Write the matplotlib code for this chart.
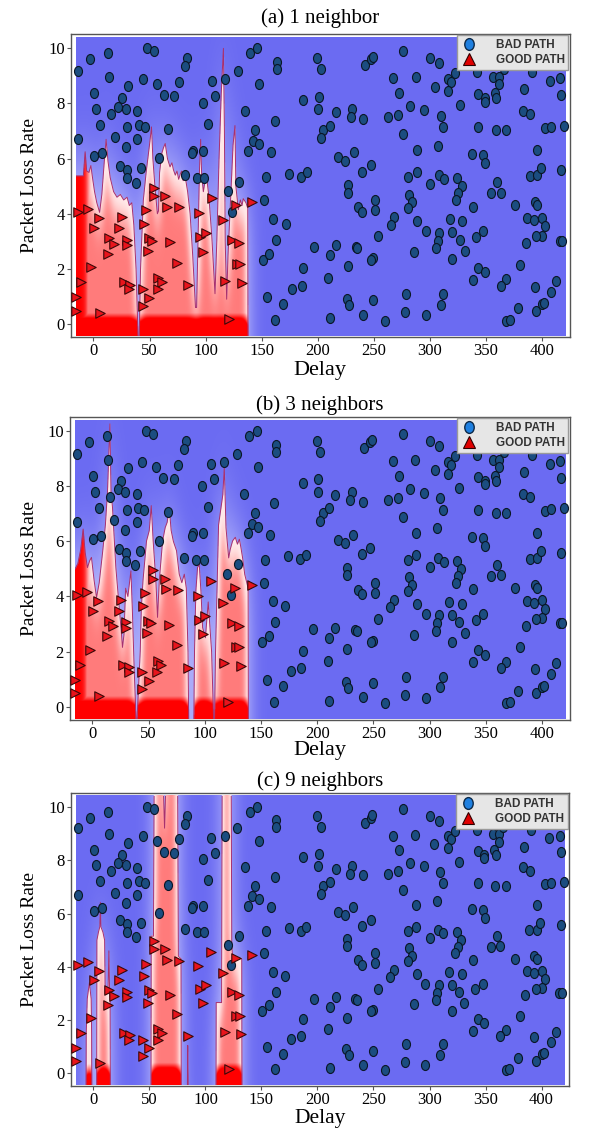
import numpy as np
import matplotlib
matplotlib.use("Agg")
import matplotlib.pyplot as plt
from matplotlib.path import Path
from matplotlib.lines import Line2D
from matplotlib.patches import Rectangle

# ---- data -----------------------------------------------------------------
BAD_PATH = [
    (-13.4, 9.19), (-3.0, 9.60), (12.8, 9.82), (47.5, 10.0), (54.3, 9.92), (83.1, 9.64),
    (81.7, 9.36), (14.0, 8.97), (44.5, 8.90), (56.4, 8.71), (76.3, 8.79), (31.2, 8.65),
    (0.6, 8.39), (25.5, 8.19), (63.0, 8.31), (72.2, 8.27), (105.4, 8.83), (108.4, 8.27),
    (117.3, 8.89), (128.6, 9.19), (139.6, 9.82), (146.0, 10.0), (2.4, 7.81), (22.3, 7.89),
    (28.8, 7.81), (15.7, 7.61), (39.2, 7.71), (97.4, 8.03), (135.1, 7.73), (5.9, 7.22),
    (30.3, 7.15), (40.7, 7.22), (46.0, 7.14), (66.8, 7.08), (102.4, 7.25), (144.3, 7.04),
    (-13.4, 6.71), (19.3, 6.78), (39.2, 6.70), (28.8, 6.41), (0.9, 6.10), (8.0, 6.21),
    (58.8, 6.01), (89.1, 6.29), (88.2, 6.20), (98.0, 6.29), (141.9, 6.64), (138.1, 6.29),
    (23.8, 5.74), (42.5, 5.65), (29.7, 5.59), (29.7, 5.29), (38.0, 5.13), (81.7, 5.41),
    (92.1, 5.31), (98.9, 5.31), (129.8, 5.17), (119.7, 4.83), (123.2, 4.06),
    (163.3, 9.49), (163.3, 9.24), (199.6, 9.66), (202.8, 9.25), (242.0, 9.40), (247.4, 9.60),
    (248.9, 9.70), (276.2, 9.92), (267.3, 8.91), (287.2, 8.95), (147.6, 8.71), (187.1, 8.13),
    (201.0, 8.25), (200.4, 7.79), (272.6, 8.39), (282.7, 7.91), (161.8, 7.38), (216.2, 7.68),
    (230.7, 7.80), (229.3, 7.50), (240.5, 7.43), (263.1, 7.50), (271.7, 7.58), (204.9, 7.04),
    (210.8, 7.20), (202.8, 6.74), (276.2, 6.90), (147.6, 6.53), (158.3, 6.23), (218.3, 6.05),
    (224.5, 5.93), (231.9, 6.23), (239.6, 5.53), (247.4, 5.77), (288.1, 6.32), (288.1, 5.50),
    (153.8, 5.34), (174.3, 5.46), (185.0, 5.35), (190.1, 5.50), (280.6, 5.34), (226.6, 5.05),
    (226.6, 4.77), (281.5, 4.69), (284.5, 4.42), (280.6, 4.20), (152.3, 4.50), (236.1, 4.24),
    (239.6, 4.08), (251.5, 4.50), (251.5, 4.14), (160.4, 3.82), (171.3, 3.64), (268.2, 3.88),
    (264.9, 3.60), (288.9, 3.74), (162.7, 3.06), (196.6, 2.81), (216.2, 2.85), (233.9, 2.79),
    (235.4, 2.75), (253.9, 3.18), (210.8, 2.49), (150.9, 2.33), (156.8, 2.55), (249.4, 2.39),
    (247.9, 2.33), (285.9, 2.60), (187.1, 2.03), (226.6, 2.09), (209.4, 1.67), (176.7, 1.28),
    (185.6, 1.39), (155.0, 0.98), (169.3, 0.74), (225.7, 0.91), (227.8, 0.68), (249.4, 0.86),
    (279.1, 1.09), (161.8, 0.16), (210.8, 0.22), (240.5, 0.33), (260.4, 0.12), (277.7, 0.42),
    (300.5, 9.66), (308.2, 9.46), (304.4, 8.59), (316.3, 8.89), (319.2, 8.79), (322.8, 9.09),
    (316.3, 8.45), (342.4, 9.15), (356.4, 8.97), (361.7, 8.97), (365.9, 9.24), (361.7, 8.70),
    (390.8, 9.15), (406.8, 8.82), (416.3, 8.91), (343.0, 8.33), (349.0, 8.19), (349.0, 8.07),
    (357.9, 8.37), (359.4, 8.21), (384.0, 8.51), (417.2, 8.31), (326.6, 7.95), (294.9, 7.77),
    (309.7, 7.56), (311.8, 7.14), (383.1, 7.73), (389.6, 7.61), (343.0, 7.14), (358.8, 7.02),
    (368.3, 7.02), (403.0, 7.10), (408.4, 7.16), (420.0, 7.20), (306.8, 6.47), (337.6, 6.17),
    (347.4, 6.14), (349.3, 5.83), (395.8, 6.32), (300.5, 5.07), (307.9, 5.39), (312.4, 5.27),
    (324.3, 5.29), (328.2, 4.99), (325.5, 4.75), (323.1, 4.50), (338.5, 4.26), (360.0, 5.14),
    (354.9, 4.75), (363.3, 4.77), (376.3, 4.30), (389.0, 5.37), (395.8, 5.39), (398.8, 5.65),
    (417.2, 5.57), (393.5, 4.42), (395.8, 4.30), (296.4, 3.36), (308.2, 3.32), (306.8, 3.02),
    (305.9, 2.75), (317.7, 3.80), (320.1, 3.33), (329.0, 3.72), (326.6, 3.06), (331.1, 2.66),
    (340.9, 3.16), (347.4, 3.36), (320.1, 2.36), (386.9, 3.84), (392.9, 3.78), (400.4, 3.86),
    (403.0, 3.56), (400.4, 3.21), (395.0, 3.18), (385.4, 2.93), (415.8, 3.02), (418.2, 3.03),
    (343.0, 2.05), (349.0, 1.88), (338.5, 1.61), (380.7, 2.15), (368.3, 1.63), (363.3, 1.39),
    (393.5, 1.36), (412.8, 1.57), (408.4, 1.18), (311.8, 1.09), (309.7, 0.70), (296.4, 0.31),
    (378.6, 0.58), (394.9, 0.48), (400.4, 0.72), (402.0, 0.76), (368.3, 0.12), (371.2, 0.16),
]

GOOD_PATH = [
    (54.3, 4.95), (54.0, 4.65), (64.1, 4.65), (65.3, 4.26), (76.3, 4.23), (105.4, 4.57),
    (127.1, 4.32), (141.6, 4.43), (-14.0, 4.06), (-4.5, 4.17), (5.0, 3.83), (25.5, 3.88),
    (46.9, 4.12), (93.8, 4.02), (115.8, 3.76), (0.9, 3.49), (23.2, 3.49), (45.1, 3.64),
    (14.3, 3.12), (18.7, 2.92), (29.7, 3.06), (29.7, 2.87), (49.6, 3.12), (52.0, 3.02),
    (68.3, 2.96), (95.0, 3.16), (100.4, 3.30), (123.8, 3.04), (130.1, 2.93), (12.8, 2.55),
    (48.7, 2.66), (98.0, 2.63), (-2.1, 2.07), (74.8, 2.23), (127.7, 2.17), (130.7, 2.17),
    (-11.0, 1.52), (27.6, 1.52), (32.7, 1.43), (32.1, 1.27), (44.5, 1.27), (57.9, 1.67),
    (60.9, 1.52), (57.3, 1.27), (49.9, 0.94), (84.6, 1.40), (117.3, 1.57), (132.1, 1.49),
    (-15.7, 0.97), (-15.4, 0.48), (5.9, 0.40), (43.9, 0.64), (120.9, 0.18),
]

# top edge of the GOOD PATH region in each panel
EDGE_1NN_X = [-15.5, -9.0, -7.4, -6.0, -4.0, -2.3, -0.8, 1.0, 3.0, 5.5, 7.5, 9.5, 11.3, 13.0,
              15.0, 18.0, 21.0, 24.0, 27.0, 30.0, 32.0, 34.2, 36.0, 38.0, 39.8, 40.8, 42.0,
              44.5, 47.0, 50.0, 51.8, 53.0, 55.0, 57.0, 58.0, 59.0, 61.0, 62.5, 64.0, 66.0,
              68.3, 70.0, 71.3, 73.0, 74.5, 76.0, 77.5, 78.7, 80.0, 82.0, 84.0, 86.2, 88.5,
              91.0, 92.0, 93.5, 94.5, 95.6, 96.5, 98.0, 100.0, 101.6, 103.0, 105.5, 108.4,
              110.0, 112.0, 114.0, 115.9, 116.8, 117.5, 118.8, 120.0, 122.5, 124.5, 126.2,
              127.0, 129.2, 131.0, 132.5, 133.6, 136.0, 137.6, 137.8]
EDGE_1NN_Y = [5.37, 5.37, 6.25, 5.55, 5.5, 5.75, 5.3, 4.8, 4.4, 4.05, 4.7, 5.8, 6.7, 5.9,
              5.3, 4.8, 4.6, 4.7, 4.5, 4.6, 4.3, 4.4, 3.6, 2.0, -0.5, -0.5, 2.0,
              4.5, 5.5, 6.5, 7.15, 6.0, 4.9, 4.0, 4.1, 5.5, 6.2, 6.4, 6.55, 6.0,
              5.7, 5.85, 5.6, 5.4, 5.55, 5.25, 5.45, 5.55, 5.2, 5.3, 4.8, 4.0, 2.5,
              0.6, 0.6, 3.5, 5.5, 6.7, 5.4, 4.8, 5.3, 5.1, 4.6, 3.2, 1.1,
              3.0, 6.0, 8.4, 10.0, 7.0, 3.0, 0.9, 2.5, 4.7, 6.5, 7.2,
              5.0, 4.15, 4.5, 4.3, 4.55, 4.4, 4.2, -0.5]

EDGE_3NN_X = [-15.5, -13.0, -10.5, -8.3, -6.5, -4.5, -2.5, -0.9, 1.5, 3.6, 6.0, 9.0, 11.5,
              13.4, 15.5, 16.5, 17.8, 20.8, 23.8, 25.5, 26.7, 28.0, 29.5, 31.5, 34.2, 35.5,
              37.0, 38.8, 39.6, 42.5, 43.5, 45.0, 48.1, 50.5, 52.3, 54.0, 56.4, 57.9, 59.5,
              62.4, 64.7, 66.5, 68.3, 70.0, 72.0, 74.8, 77.2, 79.5, 81.7, 83.5, 85.0, 85.6,
              90.2, 90.8, 92.0, 93.5, 95.0, 96.5, 98.0, 100.5, 103.0, 106.0, 107.8, 108.6,
              109.5, 112.2, 116.0, 117.3, 118.8, 121.2, 122.5, 124.7, 127.1, 129.0, 130.7,
              132.0, 133.6, 135.5, 138.5, 138.7]
EDGE_3NN_Y = [5.0, 5.2, 5.7, 6.45, 5.6, 5.05, 5.3, 5.42, 4.57, 3.96, 4.5, 5.6, 6.6,
              7.84, 10.27, 7.8, 7.24, 5.05, 3.6, 2.8, 2.15, 2.6, 4.3, 4.0, 4.93, 3.5,
              1.5, -0.5, -0.5, 2.0, 3.6, 4.6, 6.02, 6.39, 7.3, 6.02, 4.57, 3.24, 4.6,
              6.02, 6.5, 6.7, 7.24, 6.4, 6.0, 5.66, 4.81, 4.5, 4.81, 4.3, 2.0, -0.5,
              -0.5, 2.0, 4.2, 5.05, 5.17, 4.2, 2.87, 2.5, 3.8, 2.0, -0.5, -0.5,
              2.0, 6.6, 7.7, 8.7, 6.5, 5.4, 5.7, 6.02, 6.15, 5.9, 6.08,
              5.8, 5.4, 4.8, 4.3, -0.5]

EDGE_9NN_X = [-15.5, -6.6, -6.4, -5.5, -3.6, -2.0, -1.6, -1.4, 2.9, 3.1, 4.5, 5.7, 6.2,
              6.7, 8.5, 10.0, 10.5, 13.0, 13.8, 14.5, 14.9, 15.1, 51.4, 51.6, 53.6, 54.2,
              54.8, 62.5, 63.5, 64.5, 74.5, 75.2, 75.8, 78.2, 78.4, 83.8, 84.2, 84.6, 109.4,
              109.6, 114.4, 114.9, 115.4, 123.0, 123.5, 124.2, 132.4, 132.6]
EDGE_9NN_Y = [-1, -1, 1.5, 2.8, 3.4, 2.8, 1.5, -1, -1, 5.0, 5.3, 5.5, 6.42,
              5.5, 5.3, 5.0, 3.0, 3.0, 4.6, 3.0, 2.8, -1, -1, 5.15, 5.15, 10.6,
              10.6, 10.6, 9.2, 10.6, 10.6, 10.6, 4.4, 4.3, -1, -1, 1.05, -1, -1,
              2.66, 2.66, 10.6, 10.6, 10.6, 4.8, 4.4, 4.3, -1]

TITLES = ["(a) 1 neighbor", "(b) 3 neighbors", "(c) 9 neighbors"]
X_TICKS = [0, 50, 100, 150, 200, 250, 300, 350, 400]
Y_TICKS = [0, 2, 4, 6, 8, 10]

# ---- layout (pixels of the 614x1133 canvas) --------------------------------
W, H = 614, 1133
FRAMES = [(71, 569.5, 34, 337), (70, 569.5, 417, 719.5), (71, 569, 793, 1086)]
TITLE_Y = [18, 405, 781]
XLABEL_TOP = [361, 741, 1109]
XLABEL_SIZE = [16, 16, 15.5]

GRID_X = np.arange(-15.5, 421.0, 0.25)
GRID_Y = np.arange(-0.44, 10.42, 0.02)
SERIF = ["Liberation Serif", "DejaVu Serif"]


def gaussian_blur(a, sx, sy):
    def kern(s):
        r = int(3 * s)
        t = np.arange(-r, r + 1)
        k = np.exp(-0.5 * (t / s) ** 2)
        return k / k.sum()
    kx, ky = kern(sx), kern(sy)
    rx, ry = len(kx) // 2, len(ky) // 2
    p = np.pad(a, ((0, 0), (rx, rx)), mode="edge")
    a = np.array([np.convolve(row, kx, mode="valid") for row in p])
    p = np.pad(a, ((ry, ry), (0, 0)), mode="edge")
    a = np.array([np.convolve(col, ky, mode="valid") for col in p.T]).T
    return a


def region_colors(edge_x, edge_y, left_core):
    X, Y = np.meshgrid(GRID_X, GRID_Y)
    top = np.interp(GRID_X, edge_x, edge_y)
    good = (Y < top[None, :]).astype(float)

    inner = gaussian_blur(good, 3.0 / 0.25, 0.8 / 0.02)
    glow = gaussian_blur(good, 7.0 / 0.25, 1.2 / 0.02)

    depth = np.clip((inner - 0.5) * 2, 0, 1)
    s = 0.04 + 0.45 * depth ** 1.8
    bottom = np.clip((0.35 + 0.3 * depth - Y) / 0.45, 0, 1) ** 1.3
    s = np.maximum(s, bottom)
    if left_core:
        s = np.maximum(s, 1 / (1 + np.exp((X + 5) / 1.5)))
    red = np.stack([np.ones_like(s), 0.95 * (1 - s), 0.95 * (1 - s)], axis=-1)

    g = np.clip(glow * 1.5, 0, 1)[..., None] * 0.7
    base = np.array([0.42, 0.42, 0.95])
    light = np.array([0.78, 0.78, 0.99])
    blue = base + (light - base) * g

    return np.where(good[..., None] > 0.5, red, blue)


def main():
    plt.rcParams["font.family"] = SERIF
    fig = plt.figure(figsize=(W / 100, H / 100), dpi=100)
    fig.patch.set_facecolor("white")

    circle = Path.unit_circle()
    ellipse = Path(circle.vertices * np.array([0.8, 1.0]), circle.codes)

    bad_x = [p[0] for p in BAD_PATH]
    bad_y = [p[1] for p in BAD_PATH]
    good_x = [p[0] for p in GOOD_PATH]
    good_y = [p[1] for p in GOOD_PATH]

    edges = [(EDGE_1NN_X, EDGE_1NN_Y, True), (EDGE_3NN_X, EDGE_3NN_Y, True),
             (EDGE_9NN_X, EDGE_9NN_Y, False)]

    for i, (edge_x, edge_y, left_core) in enumerate(edges):
        left, right, top, bottom = FRAMES[i]
        ax = fig.add_axes([left / W, 1 - bottom / H, (right - left) / W, (bottom - top) / H])
        ax.set_xlim(-20, 424.5)
        ax.set_ylim(-0.47, 10.52)

        rgb = region_colors(edge_x, edge_y, left_core)
        extent = [GRID_X[0], GRID_X[-1], GRID_Y[0], GRID_Y[-1]]
        ax.imshow(rgb, extent=extent, origin="lower", aspect="auto",
                  interpolation="bilinear", zorder=1)
        clip = Rectangle((extent[0], extent[2]), extent[1] - extent[0],
                         extent[3] - extent[2], transform=ax.transData)
        line, = ax.plot(edge_x, edge_y, color="#a8306e", lw=0.7, zorder=2)
        line.set_clip_path(clip)

        ax.scatter(bad_x, bad_y, marker=ellipse, s=52, c="#1b4d80",
                   edgecolors="#0a1626", linewidths=0.8, zorder=3)
        ax.scatter(good_x, good_y, marker=">", s=46, c="#e8141c",
                   edgecolors="#3a0808", linewidths=0.8, zorder=3)

        ax.set_xticks(X_TICKS)
        ax.set_yticks(Y_TICKS)
        ax.tick_params(labelsize=12, length=3, width=0.8, color="#555555", pad=1.5)
        for sp in ax.spines.values():
            sp.set_color("#555555")
            sp.set_linewidth(1.0)

        handles = [
            Line2D([], [], ls="", marker=ellipse, ms=8.5, mfc="#1f80e0", mec="#0d2a4a", mew=1.0),
            Line2D([], [], ls="", marker="^", ms=8.5, mfc="#e00000", mec="#300000", mew=0.8),
        ]
        leg = ax.legend(handles, ["BAD PATH", "GOOD PATH"], loc="upper right",
                        bbox_to_anchor=(1.0, 1.0), borderaxespad=0.1, frameon=True,
                        fancybox=False, framealpha=1, facecolor="#e6e6e6",
                        edgecolor="#9a9a9a",
                        prop={"family": "Liberation Sans", "weight": "bold", "size": 8.5},
                        labelcolor="#333333", handletextpad=1.6, borderpad=0.3,
                        labelspacing=0.3, handlelength=1.4)
        leg.set_zorder(5)

        cx = (left + right) / 2 / W
        fig.text(cx, 1 - TITLE_Y[i] / H, TITLES[i], ha="center", va="center", fontsize=15)
        fig.text(cx, 1 - XLABEL_TOP[i] / H, "Delay", ha="center", va="top",
                 fontsize=XLABEL_SIZE[i])
        fig.text(30 / W, 1 - (top + bottom) / 2 / H, "Packet Loss Rate", rotation=90,
                 ha="center", va="center", fontsize=14)

    fig.savefig("out.png", dpi=100, facecolor=fig.get_facecolor())


if __name__ == "__main__":
    main()
